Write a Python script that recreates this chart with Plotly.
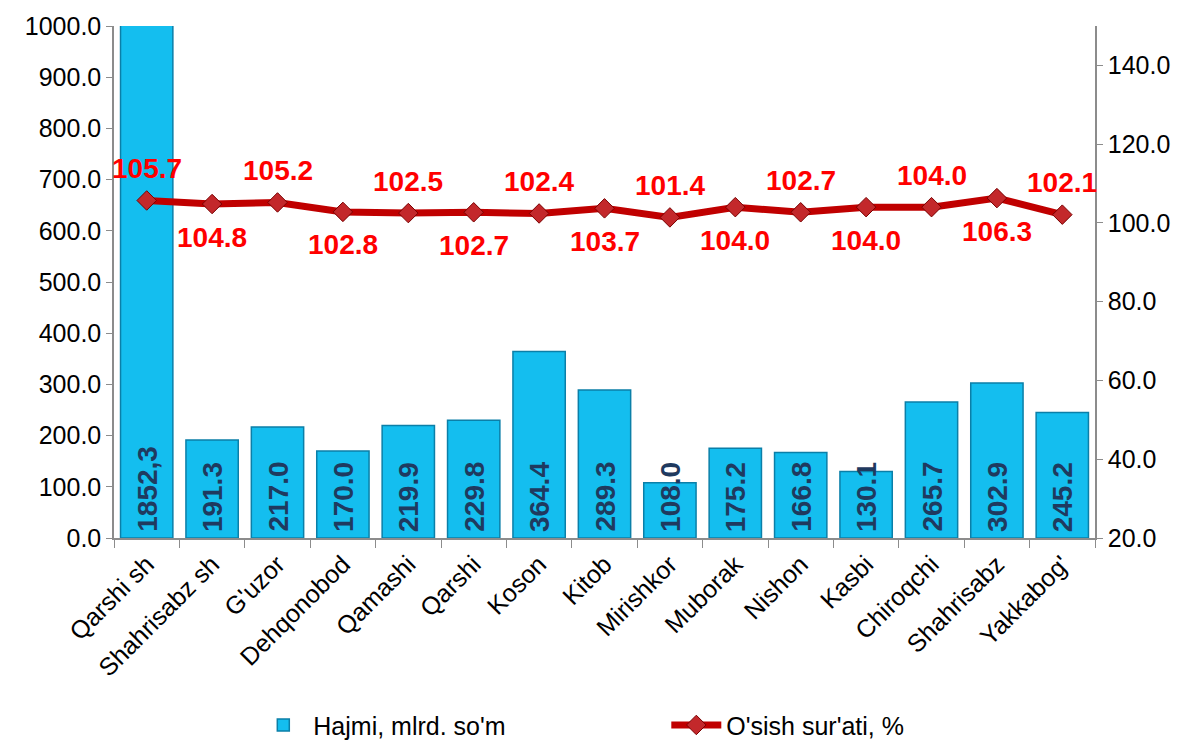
import plotly.graph_objects as go

categories = ["Qarshi sh", "Shahrisabz sh", "G'uzor", "Dehqonobod", "Qamashi", "Qarshi",
              "Koson", "Kitob", "Mirishkor", "Muborak", "Nishon", "Kasbi", "Chiroqchi",
              "Shahrisabz", "Yakkabog'"]
volume = [1852.3, 191.3, 217.0, 170.0, 219.9, 229.8, 364.4, 289.3, 108.0, 175.2, 166.8,
          130.1, 265.7, 302.9, 245.2]
volume_labels = ["1852,3", "191.3", "217.0", "170.0", "219.9", "229.8", "364.4", "289.3",
                 "108.0", "175.2", "166.8", "130.1", "265.7", "302.9", "245.2"]
growth = [105.7, 104.8, 105.2, 102.8, 102.5, 102.7, 102.4, 103.7, 101.4, 104.0, 102.7,
          104.0, 104.0, 106.3, 102.1]

FONT = "Liberation Sans, Arial, sans-serif"

fig = go.Figure()
fig.add_trace(go.Bar(
    x=categories, y=volume, name="Hajmi, mlrd. so'm",
    marker=dict(color="#14BEEF", line=dict(color="#0B7FA8", width=1.5)),
    width=0.8, yaxis="y", cliponaxis=True,
))
fig.add_trace(go.Scatter(
    x=categories, y=growth, name="O'sish sur'ati, %", yaxis="y2",
    mode="lines+markers",
    line=dict(color="#C00000", width=7),
    marker=dict(symbol="diamond", size=15, color="#C3282B", line=dict(color="#7A0000", width=1)),
))

annotations = []
for c, v, lab in zip(categories, volume, volume_labels):
    annotations.append(dict(
        x=c, y=0, xref="x", yref="y", text=f"<b>{lab}</b>", showarrow=False,
        textangle=-90, yanchor="bottom", xanchor="center", yshift=4,
        font=dict(family=FONT, size=28, color="#1F3A5F"),
    ))
for i, (c, g) in enumerate(zip(categories, growth)):
    up = (i % 2 == 0)
    annotations.append(dict(
        x=c, y=g, xref="x", yref="y2", text=f"<b>{g:.1f}</b>", showarrow=False,
        yanchor="middle", xanchor="center", yshift=32 if up else -33,
        font=dict(family=FONT, size=28, color="#FF0000"),
    ))

fig.update_layout(
    width=1189, height=744,
    margin=dict(l=106, r=102, t=18, b=214, autoexpand=False),
    paper_bgcolor="white", plot_bgcolor="white",
    font=dict(family=FONT, size=25, color="black"),
    showlegend=True,
    legend=dict(orientation="h", x=0.142, y=0.036, xanchor="left", yanchor="middle",
                yref="container",
                font=dict(size=25), itemwidth=50, entrywidth=348, traceorder="normal"),
    bargap=0.2,
    xaxis=dict(
        showline=True, linecolor="#8C8C8C", linewidth=1.5, ticks="outside", ticklen=8,
        tickcolor="#8C8C8C", tickson="boundaries", tickangle=-45, showgrid=False,
        tickfont=dict(size=25), range=[-0.5, 14.5], automargin=False,
    ),
    yaxis=dict(
        range=[0, 1000], dtick=100, tickformat=".1f", showline=True, linecolor="#8C8C8C",
        linewidth=1.5, ticks="outside", ticklen=6, tickcolor="#8C8C8C", showgrid=False,
        zeroline=False, tickfont=dict(size=25), automargin=False,
    ),
    yaxis2=dict(
        range=[20, 150], tick0=20, dtick=20, tickformat=".1f", overlaying="y", side="right",
        showline=True, linecolor="#8C8C8C", linewidth=1.5, ticks="outside", ticklen=6,
        tickcolor="#8C8C8C", showgrid=False, zeroline=False, tickfont=dict(size=25),
        automargin=False,
    ),
    annotations=annotations,
)

fig.write_html("out.html")
